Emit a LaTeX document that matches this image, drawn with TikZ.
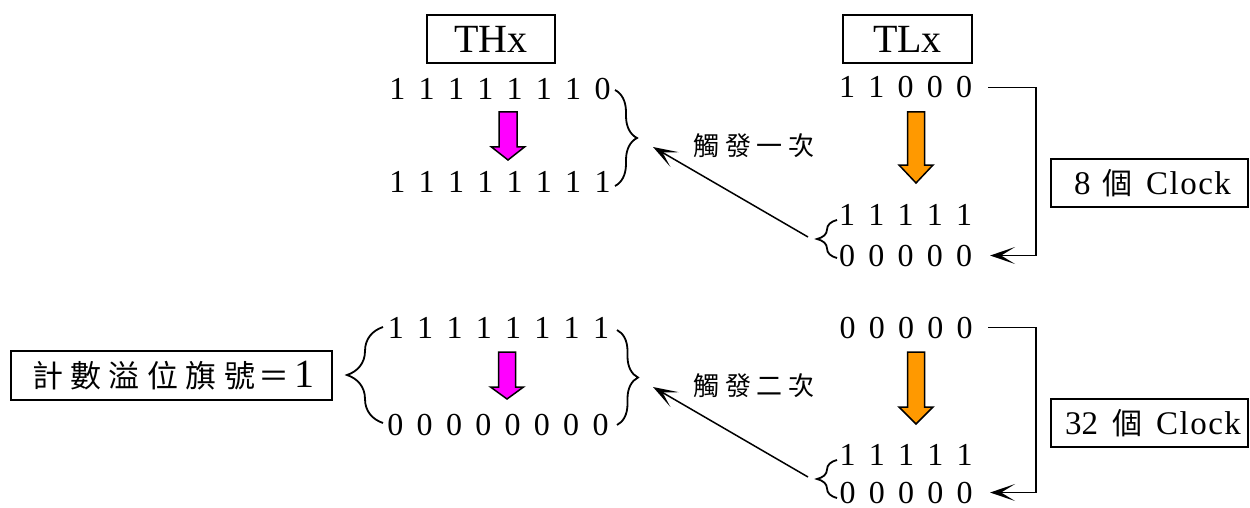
\documentclass[tikz,border=0pt]{standalone}
\usepackage{fontspec}
\setmainfont{Liberation Serif}
\newfontfamily\cjk{Noto Sans CJK TC}
\usetikzlibrary{arrows.meta,decorations.pathreplacing}

% set each character of #2 in a box of fixed width #1
\newlength\spreadwd
\newcommand\evenspread[2]{\setlength\spreadwd{#1}\spreadloop#2\relax}
\def\spreadloop#1{\ifx\relax#1\else\makebox[\spreadwd]{#1}\expandafter\spreadloop\fi}
\newcommand\clockword{C\kern1.5pt l\kern1.5pt o\kern1.5pt c\kern1.5pt k}

% block arrow: style, centre x, top y, shoulder y, tip y, half shaft, half head
\newcommand\blockarrow[7]{%
  \filldraw[#1] (#2-#6,#3) -- (#2+#6,#3) -- (#2+#6,#4) -- (#2+#7,#4)
    -- (#2,#5) -- (#2-#7,#4) -- (#2-#6,#4) -- cycle;}

\definecolor{arrorange}{RGB}{255,153,0}
\definecolor{arrpink}{RGB}{255,0,255}

\tikzset{
  framebox/.style={draw, line width=1.8pt, inner sep=0pt},
  titlebox/.style={framebox, minimum width=128pt, minimum height=48pt,
    font=\fontsize{40}{48}\selectfont},
  clockbox/.style={framebox, minimum width=197pt, minimum height=48pt,
    font=\fontsize{33}{40}\selectfont},
  bits/.style={inner sep=0pt, font=\fontsize{32}{38}\selectfont},
  trig/.style={inner sep=0pt, font={\fontsize{26}{30}\selectfont\cjk}},
  tipstyle/.style={-{Stealth[length=25pt,width=17pt,inset=14pt]}},
  link/.style={line width=1.5pt, tipstyle},
  curly/.style={line width=1.8pt, decorate, decoration={brace, amplitude=#1}},
  pinkarrow/.style={fill=arrpink, draw=black, line width=1.5pt, line join=miter},
  orangearrow/.style={fill=arrorange, draw=black, line width=1.5pt, line join=miter}
}

\begin{document}
\begin{tikzpicture}[x=1pt,y=-1pt]
\useasboundingbox (0,0) rectangle (1250,508);

% register titles
\node[titlebox] (thx) at (491,39) {THx};
\node[titlebox, minimum width=129pt] (tlx) at (907.5,39) {TLx};

% THx contents
\node[bits, anchor=base] (h1) at (500,100) {\evenspread{29.3pt}{11111110}};
\node[bits, anchor=base] (h2) at (500,192) {\evenspread{29.3pt}{11111111}};
\node[bits, anchor=base] (h3) at (498.5,338) {\evenspread{29.3pt}{11111111}};
\node[bits, anchor=base] (h4) at (498,435) {\evenspread{29.3pt}{00000000}};

% TLx contents
\node[bits, anchor=base] (l1) at (905.5,98) {\evenspread{29.25pt}{11000}};
\node[bits, anchor=base] (l2) at (905.5,225) {\evenspread{29.25pt}{11111}};
\node[bits, anchor=base] (l3) at (905.5,266) {\evenspread{29.25pt}{00000}};
\node[bits, anchor=base] (l4) at (906,338) {\evenspread{29.25pt}{00000}};
\node[bits, anchor=base] (l5) at (906,465) {\evenspread{29.25pt}{11111}};
\node[bits, anchor=base] (l6) at (906,503) {\evenspread{29.25pt}{00000}};

% counting steps
\blockarrow{pinkarrow}{508}{112}{147}{160}{9}{16.5}
\blockarrow{pinkarrow}{507}{352}{387}{399}{8.5}{16.5}
\blockarrow{orangearrow}{916}{112}{165}{183}{8.5}{17}
\blockarrow{orangearrow}{916}{352}{407}{424}{8.5}{17}

% braces
\draw[curly=22] (615,90) -- (615,186);
\draw[curly=21] (617,330) -- (617,425);
\draw[curly=36] (383,423) -- (383,327);
\draw[curly=20] (837,258) -- (837,220);
\draw[curly=20] (837,498) -- (837,460);

% clock counts
\node[clockbox] (c8) at (1149.5,183)
  {\hspace{6pt}8\hspace{11.5pt}{\fontsize{30}{36}\selectfont\cjk 個}\hspace{14pt}\clockword};
\node[clockbox] (c32) at (1149.5,423)
  {\hspace{7pt}32\hspace{14.5pt}{\fontsize{30}{36}\selectfont\cjk 個}\hspace{13.5pt}\clockword};

\coordinate (loopA) at (1036,0);
\draw[link] ([xshift=9.25pt]l1.east) -| (loopA |- l3.east) -- ([xshift=11.25pt]l3.east);
\draw[link] ([xshift=8.75pt]l4.east) -| (loopA |- l6.east) -- ([xshift=10.75pt]l6.east);

% trigger arrows
\coordinate (t1s) at (808,237);
\coordinate (t1e) at (653,147);
\coordinate (t2s) at (808,477);
\coordinate (t2e) at (653,387);
\draw[link] (t1s) -- (t1e);
\draw[link] (t2s) -- (t2e);
\node[trig] (trig1) at (754,145.5) {\evenspread{31.5pt}{觸發一次}};
\node[trig] (trig2) at (754,385.5) {\evenspread{31.5pt}{觸發二次}};

% overflow flag
\node[framebox, minimum width=321pt, minimum height=49pt] (ovf) at (171.5,375.5)
  {{\fontsize{31}{36}\selectfont\cjk\evenspread{38.4pt}{計數溢位旗號}\makebox[29.6pt]{＝}}\hspace{6pt}{\fontsize{40}{44}\selectfont 1}\hspace{11pt}};
\end{tikzpicture}
\end{document}
